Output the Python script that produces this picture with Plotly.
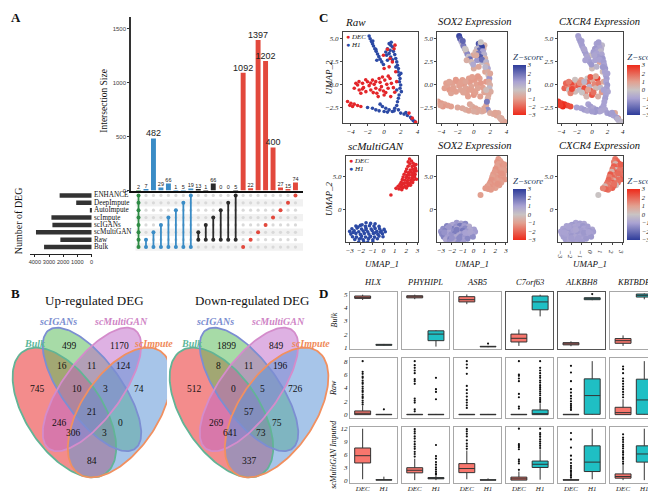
import numpy as np
import plotly.graph_objects as go

W, H = 656, 491
SERIF = "Liberation Serif"
SANS = "Liberation Sans"

# ============================ DATA ============================
# ---- Panel A : UpSet ----
set_names = ["Bulk", "Raw", "scMultiGAN", "scIGANs", "scImpute", "AutoImpute", "DeepImpute", "ENHANCE"]
set_sizes = [3350, 2200, 3920, 2760, 2830, 80, 1080, 2250]
inter_sizes = [2, 7, 482, 29, 66, 1, 5, 19, 13, 1, 66, 0, 0, 5, 1092, 22, 1397, 1202, 400, 27, 15, 74]
inter_members = [
    ["Bulk", "Raw", "scMultiGAN", "scIGANs", "scImpute", "AutoImpute", "DeepImpute", "ENHANCE"],
    ["Bulk", "Raw"], ["Bulk", "scMultiGAN"], ["Bulk", "scIGANs"], ["Bulk", "scImpute"],
    ["Bulk", "AutoImpute"], ["Bulk", "DeepImpute"], ["Bulk", "ENHANCE"],
    ["Raw", "scMultiGAN"], ["Raw", "scIGANs"], ["Raw", "scImpute"], ["Raw", "AutoImpute"],
    ["Raw", "DeepImpute"], ["Raw", "ENHANCE"],
    ["Bulk"], ["Raw"], ["scMultiGAN"], ["scIGANs"], ["scImpute"], ["AutoImpute"], ["DeepImpute"], ["ENHANCE"],
]
inter_group = ["all", "bulk", "bulk", "bulk", "bulk", "bulk", "bulk", "bulk",
               "raw", "raw", "raw", "raw", "raw", "raw",
               "single", "single", "single", "single", "single", "single", "single", "single"]
group_colors = {"all": "#2E8B45", "bulk": "#3A8CC6", "raw": "#2B2B2B", "single": "#E2483C"}

# ---- Panel B : Venn ----
venn_sets = ["Bulk", "scIGANs", "scMultiGAN", "scImpute"]
venn_regions = ["A", "B", "C", "D", "AB", "AC", "AD", "BC", "BD", "CD", "ABC", "ABD", "ACD", "BCD", "ABCD"]
venn_up = [745, 499, 1170, 74, 16, 246, 84, 11, 0, 124, 10, 3, 306, 3, 21]
venn_down = [512, 1899, 849, 726, 8, 269, 337, 11, 75, 196, 0, 73, 641, 5, 57]

# ---- Panel C : UMAP (Raw) ----
raw_h1_x = [-1.79, -1.67, -1.51, -1.39, -1.27, -1.11, -0.95, -0.79, -0.63, -0.48, -0.28, -0.08, -0.87, -1.35, -1.00,
            0.60, 0.79, 0.99, 0.40, 0.71, 1.11, 0.20, 0.60, 1.27, 0.79, 1.39, 0.40, 0.85, 0.30, 1.00,
            1.51, 1.59, 1.71, 1.67, 1.79, 1.90, 1.83, 1.98, 1.90, 2.06, 1.79, 1.71, 1.51, 1.40, 2.00,
            -0.48, -0.20, 0.20, 0.60, 0.99, 1.27, 1.51, 1.71, 1.98, 2.38, 2.78, 3.17, 3.49, 3.65,
            -1.39, -0.99, -0.60, -1.98, 0.40, 0.00, 1.60, 1.20, 2.60, 3.30]
raw_h1_y = [5.29, 5.00, 4.71, 4.46, 4.20, 3.91, 3.62, 3.33, 3.04, 2.75, 2.46, 2.17, 2.64, 4.75, 3.85,
            4.46, 4.28, 4.09, 3.91, 3.73, 3.62, 3.55, 3.37, 3.26, 3.00, 2.83, 2.64, 4.62, 3.20, 2.70,
            2.46, 2.10, 1.74, 1.38, 1.01, 0.65, 0.29, -0.07, -0.43, -0.80, -1.16, -1.52, -0.62, 1.90, 1.20,
            -2.17, -2.43, -2.61, -2.79, -2.97, -2.61, -2.32, -2.79, -3.15, -3.26, -3.41, -3.62, -3.99, -4.06,
            -2.61, -2.79, -2.90, -2.54, -3.04, -2.97, -1.90, -2.90, -3.10, -3.80]
raw_dec_x = [0.40, 0.71, 0.99, 0.00, 0.60, 1.39, 1.19, -0.08, 1.30,
             -3.57, -3.17, -2.98, -2.58, -2.46, -2.18, -1.98, -1.79, -1.59, -1.39, -1.19, -0.99, -0.87, -0.60,
             -0.48, -0.32, -0.08, 0.08, 0.32, 0.48, 0.71, 0.87, 1.11, 1.27, -0.71, 0.00, 0.79, -2.78, -3.37,
             -2.20, -1.60, -1.00, -0.20, 0.50, 0.20, -1.30, -2.60, -0.50, 1.50, -3.00,
             -4.37, -3.97, -3.57, -3.17, -3.77, -2.78, -4.10,
             3.37, 3.77, 2.98]
raw_dec_y = [3.84, 2.83, 2.46, 1.74, 1.92, 1.38, 3.91, 3.19, 4.30,
             -0.43, -0.07, -0.62, 0.11, -0.36, -0.80, 0.29, -0.14, -0.62, 0.47, 0.00, -0.43, -0.98, 0.65,
             0.22, -0.25, -0.72, 0.47, 0.00, -0.43, 0.65, 0.11, -0.36, -0.87, -1.34, -1.16, -1.34, -0.98, 0.11,
             0.50, 0.15, 0.30, 0.80, 0.90, -0.90, -0.90, -0.50, -0.60, 0.30, 0.30,
             -1.88, -2.07, -2.17, -2.32, -2.43, -2.43, -2.30,
             -3.70, -4.13, -3.15]
raw_h1_sox2 = [2.8, 2.5, 1.2, 0.3, 1.8, 0.5, -0.5, 1.5, 0.2, 2.0, -0.3, 0.8, -0.6, 2.2, 0.0,
               2.6, 1.5, 2.9, 0.4, 2.2, 1.0, -0.4, 1.8, 0.6, 2.4, -0.5, 1.2, 0.0, -0.7, 2.0,
               0.5, -0.6, 0.9, -0.7, -0.3, 1.2, -0.8, -0.6, 0.3, -0.7, -0.8, -0.6, -0.2, 0.4, -0.8,
               -0.8, -0.7, -0.9, -0.8, -0.6, -0.9, -0.8, 1.4, -0.7, -0.8, -0.9, -0.7, -0.8, -0.9,
               -0.8, -0.7, -0.9, -0.8, -0.8, -0.7, 1.8, -0.8, -0.9, -0.7]
raw_dec_sox2 = [-0.8, -0.9, 0.2, -0.7, -0.8, -0.9, -0.6, -0.8, -0.5,
                -1.0, -0.9, -1.1, -1.0, -0.9, -1.0, -1.1, -1.0, -0.9, -1.0, -1.1, -0.9, -1.0, -1.0,
                -1.1, -0.9, -1.0, -1.1, -1.0, -0.9, -1.0, -1.1, -1.0, -0.9, -1.0, -1.1, -1.0, -0.9, -1.0,
                -1.1, -1.0, -0.9, -1.0, -1.1, -1.0, -0.9, -1.0, -1.0, -1.1, -0.9,
                -1.0, -1.1, -0.9, -1.0, -1.1, -1.0, -0.9,
                -0.9, -1.0, -0.8]
raw_h1_cxcr4 = [-1.1, -1.0, -1.2, -0.9, -1.1, -1.0, -1.2, -1.1, -0.9, -1.0, -1.1, -1.2, -1.0, -1.1, -0.9,
                -1.0, -1.1, -0.9, -1.2, -1.0, -0.4, -1.1, -1.0, -0.9, -1.1, -1.2, -1.0, -1.1, -0.9, -1.0,
                -1.1, -1.0, -1.2, -1.0, -0.9, -1.1, -1.0, -1.2, -1.1, -0.9, -1.0, -1.1, -1.0, -1.2, -1.0,
                -1.0, -1.1, -0.9, -1.2, -1.0, -1.1, -1.0, -0.9, -1.1, -1.2, -1.0, -1.1, -0.5, -0.3,
                -1.0, -1.1, -0.9, -1.0, -1.2, -1.1, -1.0, -0.9, -1.1, -0.6]
raw_dec_cxcr4 = [0.5, -0.3, 0.8, 0.2, -0.5, 0.3, -0.6, 0.1, -0.4,
                 2.0, 1.5, 0.0, 2.5, 1.8, 0.2, 1.2, 2.2, -0.2, 1.0, 0.5, 2.4, 1.6, 0.0,
                 1.9, -0.5, 2.1, 0.8, 1.4, 0.3, 2.6, 1.7, -0.3, 1.1, 0.4, 2.3, 0.6, 1.5, 2.0,
                 0.1, 1.3, -0.4, 2.2, 0.9, 1.8, 0.0, 2.5, 1.0, 0.7, 1.6,
                 2.8, 2.6, 2.9, 2.5, 3.0, 2.4, 2.7,
                 1.5, 1.2, 0.8]

# ---- Panel C : UMAP (scMultiGAN) ----
gan_dec_x = [2.30, 2.47, 2.18, 2.62, 2.33, 2.71, 2.52, 2.17, 2.82, 2.58, 2.36, 2.04, 2.88, 2.69, 2.44,
             2.21, 1.96, 2.79, 2.56, 2.28, 2.07, 1.82, 2.74, 2.51, 2.24, 2.01, 1.73, 2.91, 2.66, 2.41,
             2.13, 1.88, 1.66, 2.57, 2.31, 2.04, 1.79, 1.56, 2.38, 2.16, 1.92, 1.63, 1.46, 2.02, 1.74,
             1.52, 1.29, 1.61, 1.36, 2.76, 2.61, 1.10, 0.65, 2.86, 2.21]
gan_dec_y = [7.62, 7.31, 7.18, 6.97, 6.88, 6.62, 6.48, 6.52, 6.21, 6.08, 5.97, 6.12, 5.83, 5.68, 5.62,
             5.57, 5.72, 5.31, 5.18, 5.23, 5.16, 5.34, 4.92, 4.81, 4.77, 4.83, 4.91, 4.58, 4.49, 4.41,
             4.38, 4.43, 4.52, 4.08, 3.98, 4.03, 3.96, 4.12, 3.68, 3.62, 3.57, 3.71, 3.82, 3.28, 3.33,
             3.42, 3.52, 3.02, 3.12, 5.95, 5.45, 3.21, 2.21, 6.78, 3.88]
gan_h1_x = [-1.55, -1.15, -0.75, -1.90,
            -2.45, -2.05, -1.60, -1.25, -0.85, -0.40,
            -2.80, -2.35, -1.95, -1.55, -1.10, -0.75, -0.35, 0.05,
            -3.00, -2.60, -2.20, -1.80, -1.40, -1.00, -0.60, -0.20, 0.15,
            -2.90, -2.45, -2.05, -1.70, -1.30, -0.90, -0.50, -0.10,
            -2.75, -2.40, -1.95, -1.60, -1.15, -0.80, -0.40, -0.05,
            -2.55, -2.15, -1.80, -1.35, -0.95, -0.55,
            -2.20, -1.75, -1.40, -0.95,
            -2.70, -1.55, -0.75, -2.25, -1.30, -0.30, -2.00]
gan_h1_y = [-1.95, -2.05, -2.10, -2.25,
            -2.45, -2.35, -2.50, -2.40, -2.45, -2.50,
            -2.85, -2.75, -2.90, -2.80, -2.90, -2.80, -2.85, -2.95,
            -3.25, -3.15, -3.30, -3.20, -3.30, -3.15, -3.25, -3.20, -3.30,
            -3.65, -3.55, -3.70, -3.55, -3.65, -3.55, -3.70, -3.60,
            -4.05, -4.10, -3.95, -4.10, -4.00, -4.10, -3.95, -4.05,
            -4.45, -4.40, -4.50, -4.40, -4.50, -4.35,
            -4.85, -4.80, -4.90, -4.80,
            -3.40, -3.00, -3.45, -2.60, -4.25, -3.35, -4.25]
gan_dec_sox2 = [-1.1, -1.0, -1.2, -1.1, -1.0, -1.1, -1.2, -1.0, -1.1, -1.1, -1.0, -1.2, -1.1, -1.0, -1.1,
                -1.2, -1.1, -1.0, -1.1, -1.2, -1.0, -1.1, -1.1, -1.0, -1.2, -1.1, -1.0, -1.1, -1.2, -1.1,
                -1.0, -1.1, -1.2, -1.0, -1.1, -1.1, -1.0, -1.2, -1.1, -1.0, -1.1, -1.2, -1.1, -1.0, -1.1,
                -1.2, -1.0, -1.1, -1.1, -1.0, -1.2, -1.1, -1.0, -1.1, -1.2]
gan_h1_sox2 = [1.2, 0.8, 1.5, 1.0, 1.6, 0.9, 1.3, 1.8, 1.1, 0.7, 1.4, 1.0, 1.7, 0.9, 1.2, 1.5, 0.8, 1.1,
               1.3, 1.6, 0.9, 1.4, 1.0, 1.8, 1.2, 0.8, 1.1, 1.5, 1.0, 1.3, 1.7, 0.9, 1.2, 1.4, 1.0, 1.6,
               1.1, 1.3, 0.8, 1.5, 1.2, 1.0, 1.4, 0.9, 1.6, 1.1, 1.3, 1.0, 1.5, 1.2, 0.8, 1.4, 1.1, 1.3,
               1.7, 1.0, 1.2, 1.5, 0.9, 1.3]
gan_dec_cxcr4 = [1.8, 2.0, 1.6, 2.2, 0.4, 1.9, 1.7, 2.1, 1.5, 2.0, 0.2, 1.8, 2.2, 1.6, 1.9, 2.1, 0.5, 1.7,
                 2.0, 1.8, 1.5, 2.2, 1.9, 0.3, 1.7, 2.0, 1.6, 2.1, 1.8, 1.9, 0.6, 1.5, 2.0, 1.8, 1.7, 2.2,
                 1.6, 1.9, 0.1, 2.0, 1.8, 1.5, 1.7, 2.1, 1.9, 1.6, 0.4, 1.8, 2.0, 1.7, 1.9, 1.5, 0.0, 2.1, 1.8]
gan_h1_cxcr4 = [-1.0, -1.1, -0.9, -1.2, -1.0, -1.1, -0.9, -1.0, -1.2, -1.1, -1.0, -0.9, -1.1, -1.0, -1.2,
                -1.0, -1.1, -0.9, -1.0, -1.1, -1.2, -1.0, -0.9, -1.1, -1.0, -1.2, -1.1, -1.0, -0.9, -1.1,
                -1.0, -1.2, -1.1, -0.9, -1.0, -1.1, -1.0, -1.2, -0.9, -1.0, -1.1, -1.0, -1.2, -1.1, -0.9,
                -1.0, -1.1, -1.0, -1.2, -0.9, -1.1, -1.0, -1.1, -1.0, -0.9, -1.2, -1.0, -1.1, -1.0, -1.1]

# ---- Panel D : box plots ----
genes = ["HLX", "PHYHIPL", "ASB5", "C7orf63", "ALKBH8", "KBTBDB"]
box_rows = ["Bulk", "Raw", "scMultiGAN Imputed"]
groups = ["DEC", "H1"]
# Bulk
bulk_dec_q1 = [4.72, 4.76, 4.45, 1.40, 1.18, 1.30]
bulk_dec_med = [4.80, 4.84, 4.62, 1.68, 1.25, 1.50]
bulk_dec_q3 = [4.90, 4.92, 4.85, 2.00, 1.35, 1.66]
bulk_dec_lo = [4.60, 4.66, 4.28, 1.10, 1.08, 1.10]
bulk_dec_hi = [5.00, 5.00, 5.02, 2.35, 1.45, 1.90]
bulk_dec_out = [[], [], [], [], [], []]
bulk_h1_q1 = [1.15, 1.50, 1.03, 3.85, 4.62, 4.82]
bulk_h1_med = [1.18, 2.00, 1.05, 4.45, 4.70, 4.95]
bulk_h1_q3 = [1.22, 2.25, 1.07, 4.90, 4.77, 5.05]
bulk_h1_lo = [1.12, 1.05, 1.00, 3.35, 4.58, 4.65]
bulk_h1_hi = [1.25, 2.30, 1.10, 5.00, 4.80, 5.10]
bulk_h1_out = [[], [], [1.28], [], [5.05], []]
# Raw
raw_dec_q1 = [0.0, 0.0, 0.0, 0.0, 0.0, 0.0]
raw_dec_med = [0.2, 0.0, 0.0, 0.0, 0.0, 0.3]
raw_dec_q3 = [0.55, 0.05, 0.05, 0.05, 0.05, 1.1]
raw_dec_lo = [0.0, 0.0, 0.0, 0.0, 0.0, 0.0]
raw_dec_hi = [1.3, 0.1, 0.1, 0.1, 0.1, 2.3]
raw_dec_out = [[1.5, 1.8, 2.1, 2.5, 2.7, 3.0, 3.4, 3.6, 3.9, 4.2, 4.6, 4.8, 5.1, 5.5, 5.7, 6.1, 6.4, 8.0],
               [0.5, 0.8, 1.8, 2.1, 2.4, 4.6, 5.0, 5.3, 6.2, 6.6, 7.0, 7.4, 8.0],
               [1.0, 1.4, 1.8, 2.2, 2.7, 3.2, 3.7, 4.3, 6.1, 7.0, 7.5, 8.0],
               [0.9, 1.2, 2.6, 3.1, 5.0, 5.4, 5.8, 6.0, 8.0],
               [0.7, 1.0, 1.3, 1.6, 2.0, 2.4, 2.8, 3.3, 3.8, 5.0, 6.3, 7.3],
               [2.6, 3.0, 3.4, 3.8, 4.2, 4.6, 5.0, 5.4, 6.2, 6.8, 7.2]]
raw_h1_q1 = [0.0, 0.0, 0.0, 0.0, 0.05, 0.05]
raw_h1_med = [0.0, 0.0, 0.0, 0.1, 2.85, 2.2]
raw_h1_q3 = [0.05, 0.05, 0.05, 0.7, 5.35, 5.3]
raw_h1_lo = [0.0, 0.0, 0.0, 0.0, 0.0, 0.0]
raw_h1_hi = [0.1, 0.1, 0.1, 1.7, 8.0, 8.0]
raw_h1_out = [[0.8], [2.3, 3.4, 3.8, 5.5], [],
              [1.9, 2.2, 2.5, 2.9, 3.2, 3.5, 3.8, 4.1, 4.4, 4.8, 5.1, 5.5, 5.8, 6.2, 6.6, 7.0, 8.0], [], []]
# scMultiGAN imputed
gan_dec_q1 = [4.0, 1.7, 1.75, 0.0, 0.0, 0.45]
gan_dec_med = [5.7, 2.3, 2.7, 0.3, 0.02, 0.85]
gan_dec_q3 = [7.5, 2.9, 3.85, 0.7, 0.1, 1.45]
gan_dec_lo = [0.2, 0.0, 0.2, 0.0, 0.0, 0.0]
gan_dec_hi = [12.0, 5.0, 6.9, 2.0, 0.3, 3.5]
gan_dec_out = [[],
               [5.5, 6.1, 6.6, 7.3, 7.8, 8.4, 9.0, 9.7, 10.2, 10.9, 11.4, 11.9],
               [7.3, 7.9, 8.5, 9.3, 10.2, 10.8, 11.4, 11.9],
               [2.4, 3.9, 4.4, 4.8, 7.2, 7.7, 8.0, 8.4, 12.0],
               [0.6, 1.0, 1.4, 1.9, 2.3, 2.8, 3.3, 4.0, 4.8, 5.7, 7.6, 9.5, 11.0],
               [3.8, 4.3, 4.9, 5.3, 5.9, 6.4, 6.8, 7.4, 7.9, 8.3, 8.9, 9.4, 9.9, 10.7]]
gan_h1_q1 = [0.0, 0.3, 0.0, 2.95, 2.0, 4.2]
gan_h1_med = [0.05, 0.4, 0.02, 3.7, 4.2, 6.1]
gan_h1_q3 = [0.1, 0.6, 0.08, 4.45, 8.0, 8.0]
gan_h1_lo = [0.0, 0.0, 0.0, 0.1, 0.2, 0.0]
gan_h1_hi = [0.8, 1.0, 0.4, 7.2, 12.0, 12.0]
gan_h1_out = [[], [1.3, 1.6, 2.0, 2.5, 3.0, 3.6, 4.2, 5.0, 5.6, 8.2], [],
              [7.5, 8.0, 8.5, 9.0, 9.5, 10.1, 10.6, 11.0, 12.0], [], []]

box_stats = [
    [(bulk_dec_q1, bulk_dec_med, bulk_dec_q3, bulk_dec_lo, bulk_dec_hi, bulk_dec_out),
     (bulk_h1_q1, bulk_h1_med, bulk_h1_q3, bulk_h1_lo, bulk_h1_hi, bulk_h1_out)],
    [(raw_dec_q1, raw_dec_med, raw_dec_q3, raw_dec_lo, raw_dec_hi, raw_dec_out),
     (raw_h1_q1, raw_h1_med, raw_h1_q3, raw_h1_lo, raw_h1_hi, raw_h1_out)],
    [(gan_dec_q1, gan_dec_med, gan_dec_q3, gan_dec_lo, gan_dec_hi, gan_dec_out),
     (gan_h1_q1, gan_h1_med, gan_h1_q3, gan_h1_lo, gan_h1_hi, gan_h1_out)],
]

# ============================ HELPERS ============================
def xd(a, b):
    return [a / W, b / W]


def yd(top, bot):
    return [1 - bot / H, 1 - top / H]


axes = {}


def axis_pair(n, xdom, ydom, xrange, yrange, xopts=None, yopts=None):
    sfx = "" if n == 1 else str(n)
    base = dict(showgrid=False, zeroline=False, showline=False, showticklabels=False,
                ticks="", fixedrange=True)
    xa = dict(base, domain=xdom, range=xrange, anchor="y" + sfx)
    ya = dict(base, domain=ydom, range=yrange, anchor="x" + sfx)
    if xopts:
        xa.update(xopts)
    if yopts:
        ya.update(yopts)
    axes["xaxis" + sfx] = xa
    axes["yaxis" + sfx] = ya
    return "x" + sfx, "y" + sfx


annotations = []


def ann(text, x, y, size=9, color="#111", family=SERIF, xanchor="center", yanchor="middle",
        xref="paper", yref="paper", angle=0, italic=False, bold=False):
    if xref == "paper":
        x = x / W
    if yref == "paper":
        y = 1 - y / H
    annotations.append(dict(text=text, x=x, y=y, xref=xref, yref=yref, showarrow=False,
                            xanchor=xanchor, yanchor=yanchor, textangle=angle,
                            borderpad=0, borderwidth=0,
                            font=dict(family=family, size=size, color=color,
                                      style="italic" if italic else "normal",
                                      weight=700 if bold else 400)))


fig = go.Figure()
shapes = []

# ============================ PANEL A ============================
n_int = len(inter_sizes)
cols = list(range(1, n_int + 1))
col_x0, col_dx = 129.3, 7.52
xr_up = [1 - (col_x0 - 122) / col_dx, 1 + (295 - col_x0) / col_dx]
ax_bar = axis_pair(1, xd(122, 295), yd(8, 183), xr_up, [0, 1610],
                   xopts=dict(showline=True, linecolor="#111", linewidth=2),
                   yopts=dict(showline=True, linecolor="#333", linewidth=2, showticklabels=True,
                              ticks="outside", ticklen=2, tickcolor="#333",
                              tickvals=[0, 500, 1000, 1500],
                              tickfont=dict(family=SANS, size=6, color="#444")))
bar_colors = [group_colors[g] for g in inter_group]
fig.add_trace(go.Bar(x=cols, y=inter_sizes, marker=dict(color=bar_colors, line=dict(width=0)),
                     width=0.66, xaxis=ax_bar[0], yaxis=ax_bar[1]))
fig.add_trace(go.Scatter(x=cols, y=inter_sizes, mode="text", text=[str(v) for v in inter_sizes],
                         textposition="top center", cliponaxis=False,
                         textfont=dict(family=SANS, color="#222",
                                       size=[9 if v >= 400 else 5.5 for v in inter_sizes]),
                         xaxis=ax_bar[0], yaxis=ax_bar[1]))
ann("Intersection Size", 95, 92, size=9.5, angle=-90)

# matrix
row_y_bulk, row_dy = 240, 7.43
yr_mat = [-(247 - row_y_bulk) / row_dy, 7 + (188 - 184) / row_dy]
ax_mat = axis_pair(2, xd(122, 295), yd(184, 247), xr_up, yr_mat)
for r in range(0, len(set_names), 2):
    shapes.append(dict(type="rect", xref=ax_mat[0], yref=ax_mat[1], x0=0.6, x1=xr_up[1],
                       y0=r - 0.5, y1=r + 0.5, fillcolor="#F1F1F1", line=dict(width=0), layer="below"))
gx = [c for c in cols for _ in set_names]
gy = [r for _ in cols for r in range(len(set_names))]
fig.add_trace(go.Scatter(x=gx, y=gy, mode="markers", marker=dict(size=3.2, color="#D9D9D9"),
                         xaxis=ax_mat[0], yaxis=ax_mat[1]))
for g, colr in group_colors.items():
    lx, ly = [], []
    for c, mem, gg in zip(cols, inter_members, inter_group):
        if gg != g:
            continue
        rows = sorted(set_names.index(m) for m in mem)
        lx += [c] * len(rows) + [None]
        ly += rows + [None]
    fig.add_trace(go.Scatter(x=lx, y=ly, mode="lines+markers", line=dict(color=colr, width=1.8),
                             marker=dict(size=4, color=colr), connectgaps=False,
                             xaxis=ax_mat[0], yaxis=ax_mat[1]))

# set sizes
ax_set = axis_pair(3, xd(20, 83), yd(184, 247), [4351, -70], yr_mat,
                   xopts=dict(showline=True, linecolor="#222", linewidth=1, showticklabels=True,
                              ticks="outside", ticklen=2, tickcolor="#222", tickangle=0,
                              tickvals=[0, 1000, 2000, 3000, 4000],
                              tickfont=dict(family=SANS, size=5.6, color="#333")))
fig.add_trace(go.Bar(x=set_sizes, y=list(range(len(set_names))), orientation="h", width=0.62,
                     marker=dict(color="#333333", line=dict(width=0)),
                     xaxis=ax_set[0], yaxis=ax_set[1]))
for i, nm in enumerate(set_names):
    ann(nm, 85, i, size=7.2, xanchor="left", yref=ax_set[1])
ann("Number of DEG", 8, 213, size=10, angle=-90)

# ============================ PANEL B ============================
venn_ellipses = [(0.35, 0.47, 0.35, 0.19, 135), (0.50, 0.57, 0.35, 0.145, 135),
                 (0.50, 0.57, 0.35, 0.145, 45), (0.65, 0.47, 0.35, 0.19, 45)]
venn_fill = ["rgba(236,70,70,0.62)", "rgba(95,190,95,0.55)", "rgba(190,100,200,0.50)", "rgba(95,150,215,0.55)"]
venn_line = ["#62B496", "#7C8ED2", "#D48CCB", "#F19060"]
venn_label_col = ["#5DB89A", "#7B8ED0", "#CF85C6", "#EF8A5A"]


def ux(p):
    return 0.065 + (p - 2) / 185.0


def uy(p):
    return 0.185 + (473 - p) / 232.4


region_pos = {"B": (60, 340), "C": (110, 340), "AB": (52, 360), "BC": (81.5, 360), "CD": (114, 360),
              "A": (28, 383), "ABC": (67, 383), "BCD": (96.5, 383), "D": (129.5, 383), "ABCD": (82.5, 406),
              "AC": (50, 417), "BD": (111, 417), "ACD": (64, 427), "ABD": (95, 427), "AD": (82.5, 456)}
set_label_pos = [(25, 337), (48, 315), (112, 315), (144, 337)]

t = np.linspace(0, 2 * np.pi, 160)
for k, (x0, counts, title) in enumerate([(0, venn_up, "Up-regulated DEG"),
                                          (158, venn_down, "Down-regulated DEG")]):
    ax_v = axis_pair(4 + k, xd(x0, x0 + 166), yd(318, 476), [ux(0), ux(166)], [uy(476), uy(318)])
    outlines = []
    for (cx, cy, a, b, ang), fc, lc in zip(venn_ellipses, venn_fill, venn_line):
        th = np.deg2rad(ang)
        ex = cx + a * np.cos(t) * np.cos(th) - b * np.sin(t) * np.sin(th)
        ey = cy + a * np.cos(t) * np.sin(th) + b * np.sin(t) * np.cos(th)
        fig.add_trace(go.Scatter(x=ex, y=ey, mode="lines", fill="toself", fillcolor=fc,
                                 line=dict(width=0), xaxis=ax_v[0], yaxis=ax_v[1], hoverinfo="skip"))
        outlines.append((ex, ey, lc))
    for ex, ey, lc in outlines:
        fig.add_trace(go.Scatter(x=ex, y=ey, mode="lines", line=dict(color=lc, width=1.8),
                                 xaxis=ax_v[0], yaxis=ax_v[1], hoverinfo="skip"))
    for reg, cnt in zip(venn_regions, counts):
        px_, py_ = region_pos[reg]
        ann(str(cnt), x0 + px_, py_, size=9.5, color="#111")
    for nm, (px_, py_), col in zip(venn_sets, set_label_pos, venn_label_col):
        ann(nm, x0 + px_, py_, size=10, color=col, italic=True, bold=True)
    ann(title, x0 + 85, 294, size=13)

# ============================ PANEL C ============================
cs_sox2 = [[0.0, "#EE2A1A"], [0.333, "#E2A090"], [0.5, "#C9C3C3"], [0.667, "#A9A2D2"], [1.0, "#2E3C9A"]]
cs_cxcr4 = [[0.0, "#2E3C9A"], [0.333, "#A9A2D2"], [0.5, "#C9C3C3"], [0.667, "#E2A090"], [1.0, "#EE2A1A"]]
RED, BLUE = "#E3262A", "#2C4AA5"
tickf = dict(family=SERIF, size=7, color="#222", style="italic")
cbtickf = dict(family=SERIF, size=6.5, color="#222", style="italic")


def umap_axes(n, xa, xb, ya, yb, xr, yr, xt, yt, ytt):
    frame = dict(showline=True, mirror=True, linecolor="#444", linewidth=1, showticklabels=True,
                 ticks="outside", ticklen=2, tickcolor="#444", tickfont=tickf)
    return axis_pair(n, xd(xa, xb), yd(ya, yb), xr, yr,
                     xopts=dict(frame, tickvals=xt),
                     yopts=dict(frame, tickvals=yt, ticktext=ytt))


top_yt, top_ytt = [-2.5, 0, 2.5, 5], ["\u22122.5", "0.0", "2.5", "5.0"]
bot_yt, bot_ytt = [-5, 0, 5], ["\u22125.0", "0", "5.0"]
top_xt, bot_xt = [-4, -2, 0, 2, 4], [-3, -2, -1, 0, 1, 2, 3]
# (left px, right px, x range, colorbar left px)
top_px = [(335, 411, [-4.92, 4.11], None), (430, 500, [-4.45, 4.05], 506), (551, 617, [-4.45, 4.05], 621)]
bot_px = [(338, 411, [-3.33, 3.09], None), (430, 500, [-3.33, 3.09], 506), (551, 617, [-3.33, 3.09], 621)]

datasets = [
    (raw_dec_x, raw_dec_y, raw_h1_x, raw_h1_y, raw_dec_sox2, raw_h1_sox2, raw_dec_cxcr4, raw_h1_cxcr4,
     top_px, 23, 115, [-4.24, 5.76], top_xt, top_yt, top_ytt, "Raw", 42, 107, 13),
    (gan_dec_x, gan_dec_y, gan_h1_x, gan_h1_y, gan_dec_sox2, gan_h1_sox2, gan_dec_cxcr4, gan_h1_cxcr4,
     bot_px, 148, 235, [-4.85, 8.1], bot_xt, bot_yt, bot_ytt, "scMultiGAN", 167, 233, 138),
]
n_ax = 6
for (dx, dy, hx, hy, dso, hso, dcx, hcx, pxs, ya, yb, yr, xt, yt, ytt,
     name, cb_top, cb_bot, ttl_y) in datasets:
    # cluster panel
    xa, xb, xr, _ = pxs[0]
    axp = umap_axes(n_ax, xa, xb, ya, yb, xr, yr, xt, yt, ytt)
    n_ax += 1
    fig.add_trace(go.Scatter(x=hx, y=hy, mode="markers", marker=dict(size=3.6, color=BLUE),
                             xaxis=axp[0], yaxis=axp[1]))
    fig.add_trace(go.Scatter(x=dx, y=dy, mode="markers", marker=dict(size=3.6, color=RED),
                             xaxis=axp[0], yaxis=axp[1]))
    ann(name, xa + 2, ttl_y, size=11, xanchor="left", italic=True)
    ann("<span style='color:%s'>\u25CF</span> <i>DEC</i>" % RED, xa + 3, ya + 5, size=7, xanchor="left")
    ann("<span style='color:%s'>\u25CF</span> <i>H1</i>" % BLUE, xa + 3, ya + 13, size=7, xanchor="left")
    ann("UMAP_2", 321, (ya + yb) / 2, size=9, angle=-90, italic=True)
    # expression panels
    for (xa, xb, xr, cbx), zd, zh, cs, gene in [(pxs[1], dso, hso, cs_sox2, "SOX2 Expression"),
                                                (pxs[2], dcx, hcx, cs_cxcr4, "CXCR4 Expression")]:
        axp = umap_axes(n_ax, xa, xb, ya, yb, xr, yr, xt, yt, ytt)
        n_ax += 1
        fig.add_trace(go.Scatter(
            x=dx + hx, y=dy + hy, mode="markers", xaxis=axp[0], yaxis=axp[1],
            marker=dict(size=6, color=zd + zh, colorscale=cs, cmin=-3, cmax=3, showscale=True,
                        line=dict(width=0),
                        colorbar=dict(x=cbx / W, xanchor="left", y=1 - cb_bot / H, yanchor="bottom",
                                      len=cb_bot - cb_top, lenmode="pixels", thickness=13,
                                      thicknessmode="pixels", xpad=0, ypad=0, outlinewidth=0,
                                      tickvals=[-3, -2, -1, 0, 1, 2, 3],
                                      ticktext=["\u22123", "\u22122", "\u22121", "0", "1", "2", "3"],
                                      ticks="", tickfont=cbtickf,
                                      title=dict(text="Z\u2212score", side="top",
                                                 font=dict(family=SERIF, size=9, style="italic"))))))
        ann(gene, xa + 1, ttl_y, size=10.5, xanchor="left", italic=True)
for xa, xb, _, _ in bot_px:
    ann("UMAP_1", (xa + xb) / 2, 257, size=9, italic=True)

# ============================ PANEL D ============================
row_px = [(285, 343, [0.85, 5.23], [1, 2, 3, 4, 5]),
          (352, 412, [-0.45, 8.45], [0, 2, 4, 6, 8]),
          (421, 478, [-0.7, 12.5], [0, 3, 6, 9, 12])]
box_fill = {"DEC": "#F8766D", "H1": "#1FBFC4"}
for ri, (ytop, ybot, yr, yt) in enumerate(row_px):
    for ci, gene in enumerate(genes):
        xa = 342 + ci * 52.4
        dark = ri == 0 and ci in (3, 4)
        frame = dict(showline=True, mirror=True, linecolor="#555" if dark else "#A8A8A8",
                     linewidth=1.4 if dark else 1)
        xo = dict(frame, tickvals=[0, 1], ticktext=groups, showticklabels=(ri == 2),
                  ticklabelstandoff=-2,
                  tickfont=dict(family=SERIF, size=7, color="#222", style="italic"))
        yo = dict(frame, tickvals=yt, showticklabels=(ci == 0),
                  tickfont=dict(family=SERIF, size=7, color="#222", style="italic"))
        axb = axis_pair(n_ax, xd(xa, xa + 47), yd(ytop, ybot), [-0.6, 1.6], yr, xopts=xo, yopts=yo)
        n_ax += 1
        for gi, g in enumerate(groups):
            q1, med, q3, lo, hi, out = box_stats[ri][gi]
            fig.add_trace(go.Box(x=[gi], q1=[q1[ci]], median=[med[ci]], q3=[q3[ci]],
                                 lowerfence=[lo[ci]], upperfence=[hi[ci]], width=0.75,
                                 orientation="v", fillcolor=box_fill[g], whiskerwidth=0,
                                 line=dict(color="#333", width=1), boxpoints=False,
                                 xaxis=axb[0], yaxis=axb[1]))
            if out[ci]:
                fig.add_trace(go.Scatter(x=[gi] * len(out[ci]), y=out[ci], mode="markers",
                                         marker=dict(size=2.2, color="#111"),
                                         xaxis=axb[0], yaxis=axb[1]))
        if ri == 0:
            ann(gene, xa + 23.5, 275, size=8.5, italic=True)
    ann(box_rows[ri], 326, (ytop + ybot) / 2, size=8, angle=-90, italic=True)

# panel letters
for letter, lx, ly in [("A", 1, 1), ("B", 1, 279), ("C", 311, 1), ("D", 311, 279)]:
    ann(letter, lx, ly, size=13, xanchor="left", yanchor="top", bold=True)

fig.update_layout(width=W, height=H, margin=dict(l=0, r=0, t=0, b=0), showlegend=False,
                  paper_bgcolor="white", plot_bgcolor="white", annotations=annotations,
                  shapes=shapes, **axes)
fig.write_html("out.html")
